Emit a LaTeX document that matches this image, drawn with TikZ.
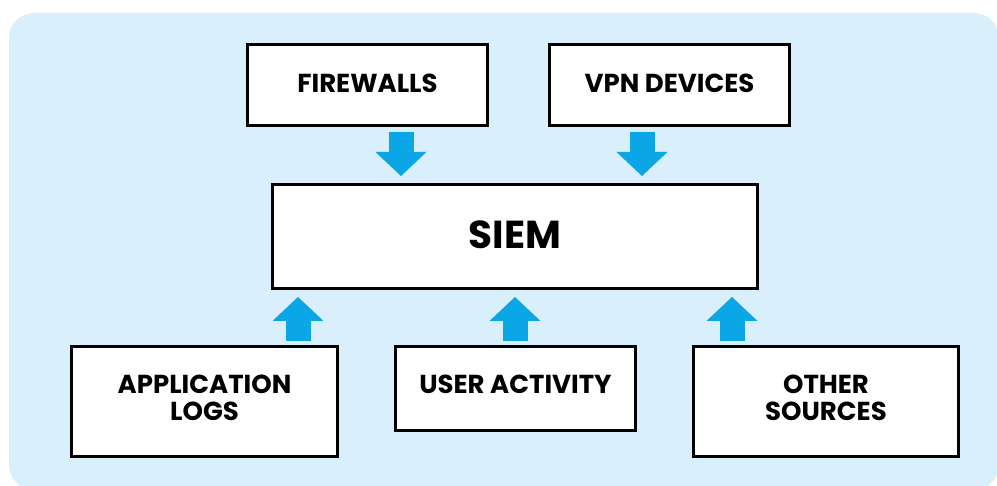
\documentclass[tikz,border=0pt]{standalone}
\usepackage{fontspec}
\setmainfont{Poppins}
\usetikzlibrary{calc,positioning,arrows.meta}
\definecolor{panelblue}{RGB}{217,239,252}
\definecolor{feedblue}{RGB}{10,166,230}

\tikzset{
  srcbox/.style={draw=black,line width=3pt,fill=white,minimum width=240pt,minimum height=81pt,
    inner sep=0pt,align=center,text depth=7pt,font=\fontsize{26}{27}\selectfont\bfseries},
  feed/.style={feedblue,line width=25pt,-{Triangle[width=51pt,length=24pt,line width=0pt]}}
}

\begin{document}
\begin{tikzpicture}[x=1pt,y=-1pt]
  \useasboundingbox (0,0) rectangle (997,486);
  \fill[panelblue,rounded corners=25pt] (9,13) rectangle (999,490);

  % boxes
  \node[srcbox,text depth=4pt] (fw) at (367.5,85) {FIREWALLS};
  \node[srcbox,text depth=4pt] (vpn) at (669.5,85) {VPN DEVICES};
  \node[srcbox,minimum width=485pt,minimum height=104pt,text depth=4pt,font=\fontsize{39}{42}\selectfont\bfseries] (siem) at (515,236.5) {SIEM};
  \node[srcbox,minimum width=266pt,minimum height=110pt] (app) at (204.5,401.5) {APPLICATION\\LOGS};
  \node[srcbox,minimum height=84pt,text depth=9pt] (user) at (515.5,388.5) {USER ACTIVITY};
  \node[srcbox,minimum width=265pt,minimum height=110pt] (other) at (826,401.5) {OTHER\\SOURCES};

  % feeds into the SIEM
  \coordinate (fwout) at ($(fw.south)+(33.5,5)$);
  \coordinate (vpnout) at ($(vpn.south)+(-27.5,5)$);
  \coordinate (appout) at ($(app.north)+(93.5,-4)$);
  \coordinate (userout) at ($(user.north)+(-0.5,-4)$);
  \coordinate (otherout) at ($(other.north)+(-94,-4)$);
  \draw[feed] (fwout) -- ($(fwout |- siem.north)+(0,-7)$);
  \draw[feed] (vpnout) -- ($(vpnout |- siem.north)+(0,-7)$);
  \draw[feed] (appout) -- ($(appout |- siem.south)+(0,7)$);
  \draw[feed] (userout) -- ($(userout |- siem.south)+(0,7)$);
  \draw[feed] (otherout) -- ($(otherout |- siem.south)+(0,7)$);
\end{tikzpicture}
\end{document}
